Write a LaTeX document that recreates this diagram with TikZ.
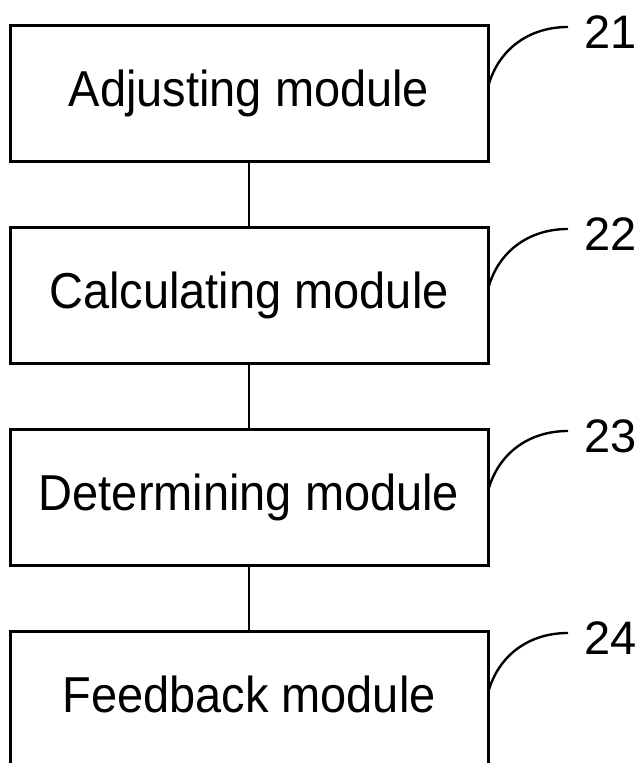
\documentclass[tikz,border=0pt]{standalone}
\usepackage{fontspec}
\setmainfont{Liberation Sans}
\newfontfamily\modfont[FakeStretch=0.93]{Liberation Sans}
\usetikzlibrary{positioning}

\begin{document}
\begin{tikzpicture}
	[x=1pt,y=1pt,node distance=66pt,
		module node/.style={rectangle,draw,line width=3pt,minimum width=478pt,minimum height=136pt,
			inner sep=0pt,outer sep=0pt,text height=36pt,text depth=11pt,font=\modfont\fontsize{50.5}{60}\selectfont},
		tag node/.style={inner sep=0pt,anchor=west,font=\fontsize{47}{56}\selectfont},
		link/.style={line width=2.6pt},
		lead/.style={line width=2.4pt}]

	\clip (0,0) rectangle (642,763);

	\node[module node] (adj)  at (249,669)  {Adjusting module};
	\node[module node] (calc) [below = of adj]  {Calculating module};
	\node[module node] (det)  [below = of calc] {Determining module};
	\node[module node] (feed) [below = of det]  {Feedback module};

	\node[tag node] (t21) at ([xshift=96pt,yshift=-6pt]adj.north east)  {21};
	\node[tag node] (t22) at ([xshift=96pt,yshift=-6pt]calc.north east) {22};
	\node[tag node] (t23) at ([xshift=96pt,yshift=-6pt]det.north east)  {23};
	\node[tag node] (t24) at ([xshift=96pt,yshift=-6pt]feed.north east) {24};

	\draw[link] (adj) -- (calc);
	\draw[link] (calc) -- (det);
	\draw[link] (det) -- (feed);

	\draw[lead] ([yshift=-61pt]adj.north east)  to[out=75,in=180] ([xshift=-16pt,yshift=5pt]t21.west);
	\draw[lead] ([yshift=-61pt]calc.north east) to[out=75,in=180] ([xshift=-16pt,yshift=5pt]t22.west);
	\draw[lead] ([yshift=-61pt]det.north east)  to[out=75,in=180] ([xshift=-16pt,yshift=5pt]t23.west);
	\draw[lead] ([yshift=-61pt]feed.north east) to[out=75,in=180] ([xshift=-16pt,yshift=5pt]t24.west);

\end{tikzpicture}
\end{document}
